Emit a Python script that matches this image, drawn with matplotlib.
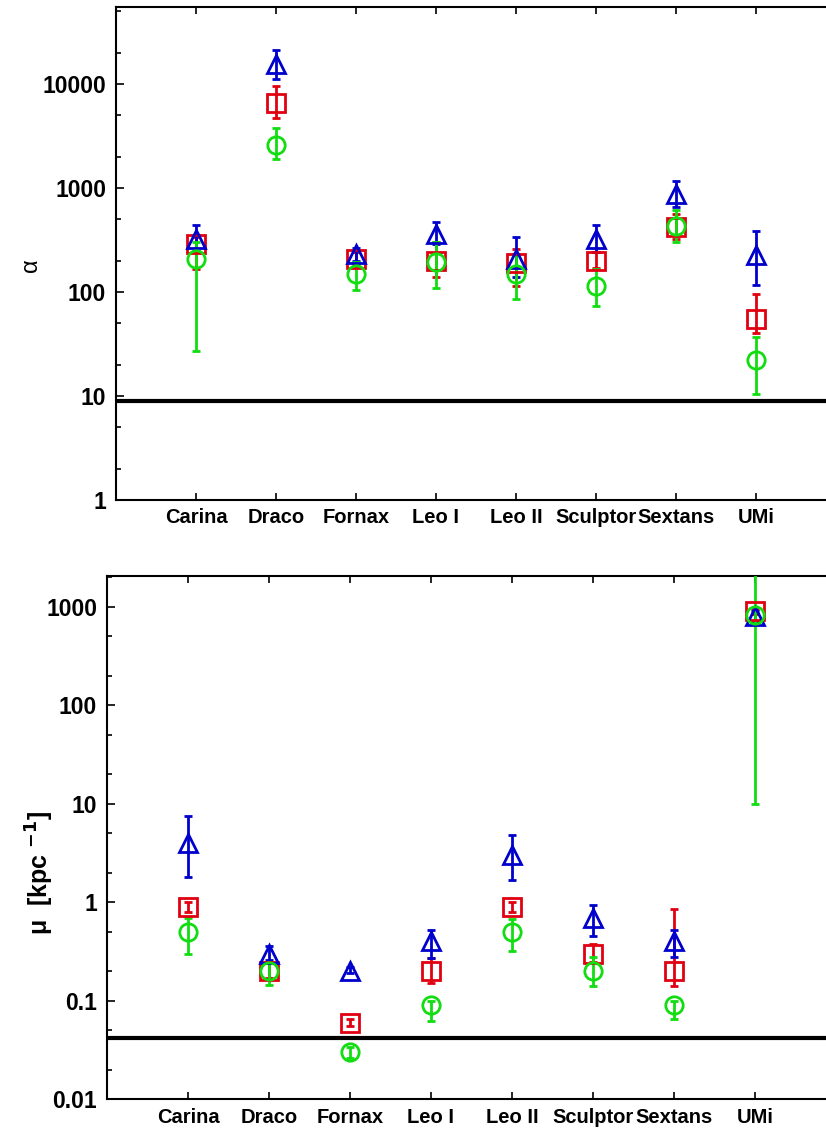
import matplotlib
matplotlib.use("Agg")
import matplotlib.pyplot as plt
import numpy as np
from matplotlib.ticker import LogLocator, NullFormatter, FuncFormatter

plt.rcParams['font.family'] = ['Liberation Sans', 'DejaVu Sans']

galaxies = ['Carina', 'Draco', 'Fornax', 'Leo I', 'Leo II', 'Sculptor', 'Sextans', 'UMi']

# alpha panel: value, lower bound, upper bound
alpha_blue = [320, 15500, 230, 360, 210, 320, 870, 225]
alpha_blue_lo = [250, 11200, 200, 290, 140, 240, 650, 118]
alpha_blue_hi = [440, 21000, 265, 470, 340, 440, 1180, 390]

alpha_red = [290, 6500, 210, 200, 190, 200, 420, 55]
alpha_red_lo = [165, 4700, 180, 140, 115, 170, 320, 40]
alpha_red_hi = [340, 9500, 240, 300, 260, 240, 560, 95]

alpha_green = [210, 2600, 150, 195, 150, 115, 430, 22]
alpha_green_lo = [27, 1900, 105, 110, 85, 73, 300, 10.5]
alpha_green_hi = [300, 3800, 195, 300, 230, 165, 610, 37]

alpha_limit = 9.0

# mu panel [kpc^-1]
mu_blue = [4.0, 0.30, 0.20, 0.40, 3.0, 0.70, 0.40, 800]
mu_blue_lo = [1.8, 0.26, 0.19, 0.27, 1.7, 0.46, 0.28, 700]
mu_blue_hi = [7.5, 0.36, 0.22, 0.52, 4.8, 0.94, 0.52, 900]

mu_red = [0.90, 0.20, 0.060, 0.20, 0.90, 0.30, 0.20, 900]
mu_red_lo = [0.80, 0.17, 0.055, 0.15, 0.80, 0.25, 0.14, 850]
mu_red_hi = [1.0, 0.24, 0.065, 0.27, 1.0, 0.38, 0.85, 950]

mu_green = [0.50, 0.20, 0.030, 0.090, 0.50, 0.20, 0.090, 820]
mu_green_lo = [0.30, 0.145, 0.026, 0.063, 0.32, 0.142, 0.065, 10]
mu_green_hi = [0.69, 0.25, 0.034, 0.10, 0.68, 0.28, 0.10, 3000]

mu_limit = 0.042

blue = '#0000cc'
red = '#e00010'
green = '#11dd11'

fig = plt.figure(figsize=(8.26, 11.28), dpi=100)
ax1 = fig.add_axes([0.1404, 0.5567, 0.8717, 0.4371])
ax2 = fig.add_axes([0.1295, 0.0254, 0.8826, 0.4640])

x = np.arange(1, len(galaxies) + 1)


def draw_series(ax, vals, lo, hi, color, marker):
    vals = np.array(vals, dtype=float)
    err = [vals - np.array(lo, dtype=float), np.array(hi, dtype=float) - vals]
    ax.errorbar(x, vals, yerr=err, fmt=marker, color=color, mfc='none', mec=color,
                ms=12.5, mew=2, elinewidth=2, capsize=3, capthick=2, zorder=3)


def style(ax, ylim):
    ax.set_yscale('log')
    ax.set_xlim(0, 9)
    ax.set_ylim(*ylim)
    ax.set_xticks(x)
    ax.set_xticklabels(galaxies, fontsize=14.5, fontweight='bold')
    ax.yaxis.set_major_locator(LogLocator(base=10, numticks=20))
    ax.yaxis.set_minor_locator(LogLocator(base=10, subs=(2, 5), numticks=20))
    ax.yaxis.set_minor_formatter(NullFormatter())
    ax.yaxis.set_major_formatter(FuncFormatter(lambda v, p: '%g' % v))
    ax.tick_params(axis='x', direction='in', top=True, bottom=True, length=5, width=1.2, pad=6)
    ax.tick_params(axis='y', which='major', direction='in', length=6, width=1.2, labelsize=16.5, pad=7)
    ax.tick_params(axis='y', which='minor', direction='in', length=3.5, width=1.2)
    for s in ['left', 'top', 'bottom']:
        ax.spines[s].set_linewidth(1.5)
    ax.spines['right'].set_visible(False)


draw_series(ax1, alpha_red, alpha_red_lo, alpha_red_hi, red, 's')
draw_series(ax1, alpha_blue, alpha_blue_lo, alpha_blue_hi, blue, '^')
draw_series(ax1, alpha_green, alpha_green_lo, alpha_green_hi, green, 'o')
ax1.axhline(alpha_limit, color='black', lw=3, zorder=2)
style(ax1, (1, 55000))

draw_series(ax2, mu_red, mu_red_lo, mu_red_hi, red, 's')
draw_series(ax2, mu_blue, mu_blue_lo, mu_blue_hi, blue, '^')
draw_series(ax2, mu_green, mu_green_lo, mu_green_hi, green, 'o')
ax2.axhline(mu_limit, color='black', lw=3, zorder=2)
style(ax2, (0.01, 2050))

for lab in ax1.get_yticklabels() + ax2.get_yticklabels():
    lab.set_fontweight('bold')

fig.text(0.037, 0.765, 'α', rotation=90, fontsize=17, ha='center', va='center')
fig.text(0.048, 0.226, r'μ  [kpc $^{\mathbf{-1}}$]', rotation=90, fontsize=18,
         fontweight='bold', ha='center', va='center')

fig.savefig('out.png', dpi=100)
